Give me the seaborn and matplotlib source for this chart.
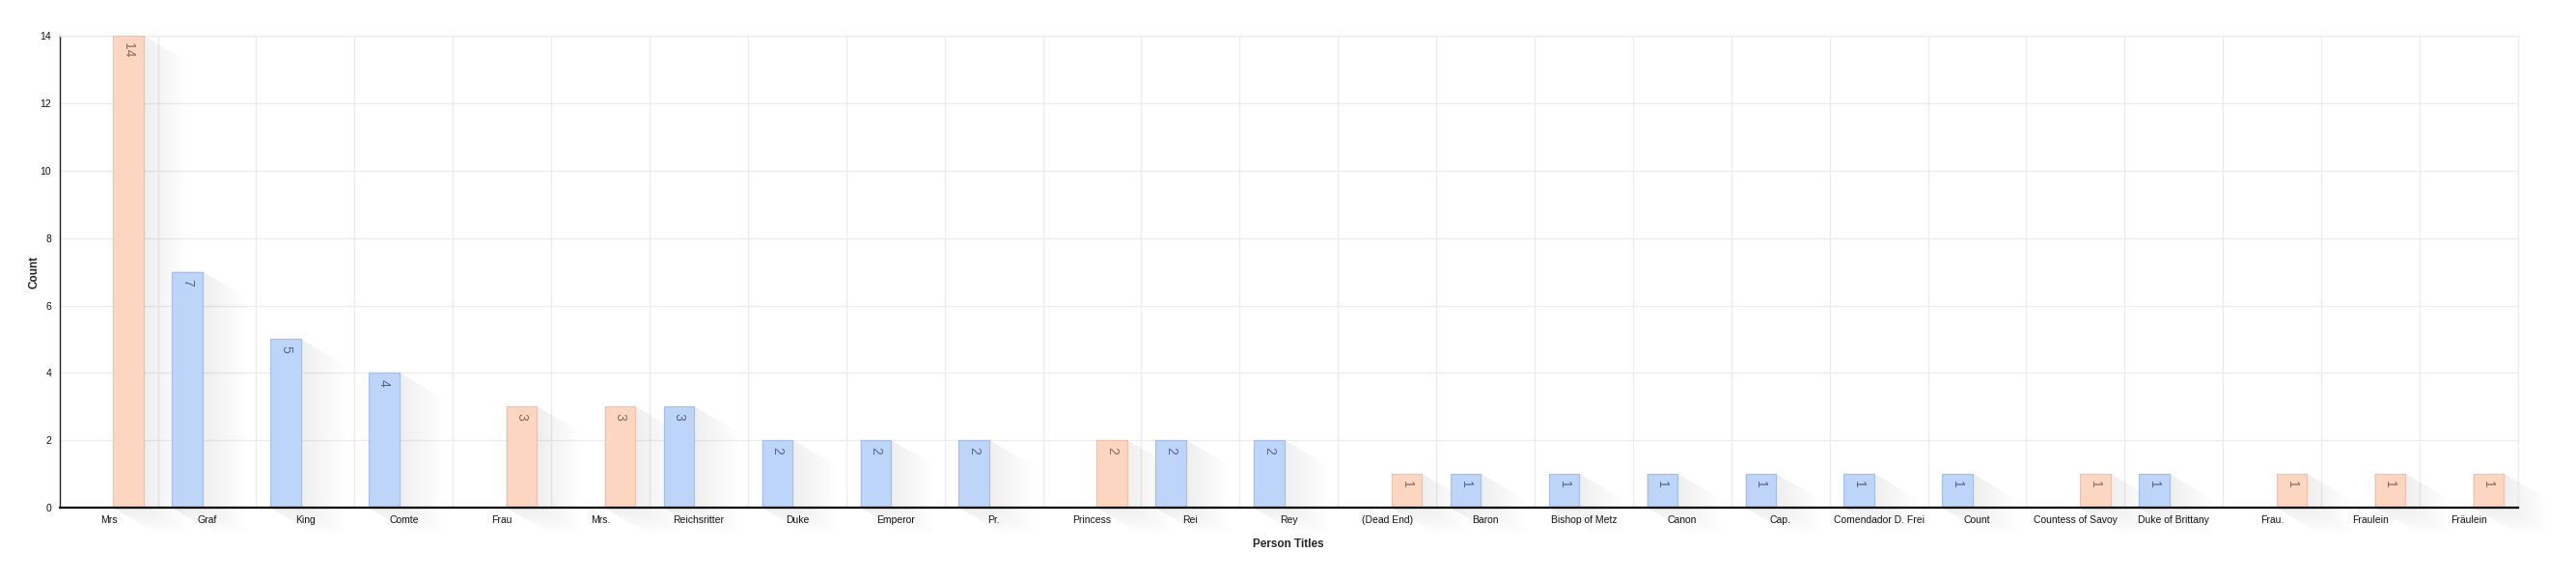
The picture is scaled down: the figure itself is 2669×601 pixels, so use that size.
"""Person titles by count - grouped bar chart (seaborn)."""

import matplotlib
matplotlib.use("Agg")
import matplotlib.pyplot as plt
from matplotlib.patches import Polygon
from matplotlib.transforms import IdentityTransform
from matplotlib.ticker import FixedLocator
import numpy as np
import pandas as pd
import seaborn as sns

TITLES = [
    "Mrs", "Graf", "King", "Comte", "Frau", "Mrs.", "Reichsritter", "Duke",
    "Emperor", "Pr.", "Princess", "Rei", "Rey", "(Dead End)", "Baron",
    "Bishop of Metz", "Canon", "Cap.", "Comendador D. Frei", "Count",
    "Countess of Savoy", "Duke of Brittany", "Frau.", "Fraulein", "Fräulein",
]
GENDERS = [
    "F", "M", "M", "M", "F", "F", "M", "M",
    "M", "M", "F", "M", "M", "F", "M",
    "M", "M", "M", "M", "M",
    "F", "M", "F", "F", "F",
]
COUNTS = [14, 7, 5, 4, 3, 3, 3, 2, 2, 2, 2, 2, 2, 1, 1, 1, 1, 1, 1, 1, 1, 1, 1, 1, 1]
Y_TICKS = [0, 2, 4, 6, 8, 10, 12, 14]

HUE_ORDER = ["M", "F"]
FILL = {"M": "#bed5fa", "F": "#fdd6c1"}
EDGE = {"M": "#a9c0e6", "F": "#efc2ab"}
TEXT = {"M": "#5b6680", "F": "#8a6a5f"}
SHADE = {"M": "#8e97ab", "F": "#a89a92"}
GRID = "#ececec"

sns.set_theme(style="white")
plt.rcParams["font.family"] = ["Liberation Sans", "DejaVu Sans"]

df = pd.DataFrame({"title": TITLES, "gender": GENDERS, "count": COUNTS})

fig = plt.figure(figsize=(26.69, 6.01), dpi=100)
ax = fig.add_axes([0.0231, 0.1248, 0.9544, 0.8131])

sns.barplot(
    data=df, x="title", y="count", hue="gender", order=TITLES,
    hue_order=HUE_ORDER, palette=FILL, saturation=1, width=0.8, gap=0.225,
    dodge=True, legend=False, ax=ax, zorder=3,
)

n = len(TITLES)
ax.set_xlim(-0.5, n - 0.5)
ax.set_ylim(0, 14)
ax.set_yticks(Y_TICKS)

# vertical grid on slot boundaries, horizontal on y ticks
ax.xaxis.set_minor_locator(FixedLocator(np.arange(-0.5, n, 1.0)))
ax.grid(which="minor", axis="x", color=GRID, linewidth=1, zorder=0)
ax.grid(which="major", axis="y", color=GRID, linewidth=1, zorder=0)
ax.grid(which="major", axis="x", visible=False)
ax.set_axisbelow(True)

for side in ["top", "right"]:
    ax.spines[side].set_color(GRID)
    ax.spines[side].set_linewidth(1)
ax.spines["left"].set_color("#222222")
ax.spines["left"].set_linewidth(1.0)
ax.spines["bottom"].set_color("#000000")
ax.spines["bottom"].set_linewidth(1.6)
ax.spines["bottom"].set_zorder(5)

ax.tick_params(axis="both", which="both", length=0, labelsize=7.5, colors="#111111")
ax.tick_params(axis="x", pad=6)
ax.tick_params(axis="y", pad=6)
ax.set_xlabel("Person Titles", fontsize=8.5, fontweight="bold", labelpad=10)
ax.set_ylabel("Count", fontsize=8.5, fontweight="bold", labelpad=0)

fig.canvas.draw()
to_disp = ax.transData.transform
SH_DX, SH_DY, LAYERS = 46, 27, 16

for container, g in zip(ax.containers, HUE_ORDER):
    for bar in container:
        h = bar.get_height()
        if not np.isfinite(h) or h <= 0:
            continue
        bar.set_edgecolor(EDGE[g])
        bar.set_linewidth(0.9)
        x0, x1 = bar.get_x(), bar.get_x() + bar.get_width()
        (px0, py0), (px1, py1) = to_disp((x0, 0)), to_disp((x1, h))
        # soft long shadow, stacked translucent layers below the bars
        for k in range(LAYERS):
            t = (LAYERS - k) / LAYERS
            dx, dy = SH_DX * t, SH_DY * t
            pts = [(px0, py1), (px1, py1), (px1 + dx, py1 - dy),
                   (px1 + dx, py0 - dy), (px0 + dx, py0 - dy), (px0, py0)]
            ax.add_patch(Polygon(pts, closed=True, transform=IdentityTransform(),
                                 facecolor=SHADE[g], edgecolor="none",
                                 alpha=0.009, zorder=2, clip_on=False))
        ax.annotate(f"{int(h)}", xy=(bar.get_x() + bar.get_width() / 2, h),
                    xytext=(0, -5), textcoords="offset points",
                    rotation=270, ha="center", va="top",
                    fontsize=10, color=TEXT[g], zorder=6)

fig.savefig("out.png", dpi=100, facecolor="white")
